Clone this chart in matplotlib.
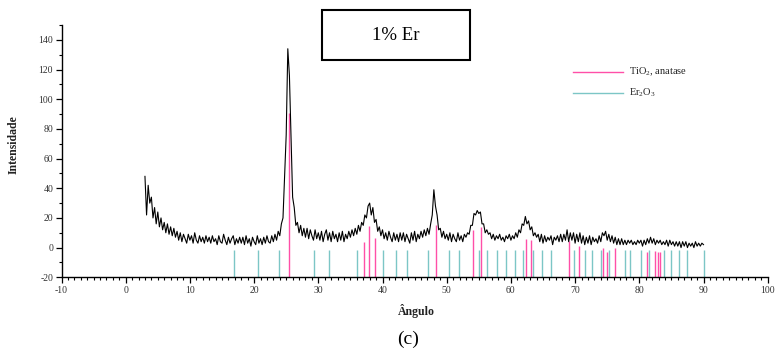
import numpy as np
import matplotlib
matplotlib.use("Agg")
import matplotlib.pyplot as plt
from matplotlib.lines import Line2D
from matplotlib.patches import Rectangle
from matplotlib.ticker import MultipleLocator

plt.rcParams['font.family'] = ['Liberation Serif', 'DejaVu Serif']
plt.rcParams['mathtext.fontset'] = 'custom'
plt.rcParams['mathtext.rm'] = 'Liberation Serif'
plt.rcParams['mathtext.it'] = 'Liberation Serif:italic'
plt.rcParams['axes.unicode_minus'] = False

# ---- data ----
angle_start, angle_step = 3.0, 0.25
intensity = [
    48, 22, 42, 30, 34, 20, 27, 16, 24, 14, 20, 12, 17, 10, 16, 9, 14, 8, 13, 7,
    11, 5, 10, 4, 9, 6, 3, 9, 5, 8, 3, 10, 5, 3, 8, 4, 7, 3, 8, 4,
    7, 3, 8, 4, 6, 2, 8, 4, 3, 9, 5, 2, 7, 3, 6, 8, 2, 6, 3, 7,
    3, 7, 2, 8, 3, 6, 1, 7, 4, 2, 8, 3, 6, 2, 7, 3, 8, 4, 3, 8,
    4, 9, 5, 11, 8, 16, 20, 48, 76, 134, 116, 74, 34, 27, 15, 17, 10, 15, 8, 13,
    7, 13, 6, 12, 8, 5, 12, 6, 10, 5, 11, 4, 9, 12, 5, 10, 4, 11, 6, 9,
    4, 10, 5, 11, 4, 9, 6, 11, 7, 12, 8, 13, 9, 15, 11, 17, 15, 22, 20, 28,
    30, 22, 27, 17, 19, 11, 14, 8, 12, 6, 10, 5, 11, 7, 4, 10, 5, 9, 4, 10,
    5, 10, 4, 9, 6, 3, 10, 5, 11, 4, 9, 6, 11, 7, 12, 8, 13, 9, 16, 22,
    39, 28, 22, 12, 13, 7, 11, 6, 9, 5, 10, 4, 9, 6, 4, 10, 5, 8, 4, 9,
    7, 10, 9, 15, 15, 23, 22, 25, 23, 24, 16, 16, 10, 12, 9, 10, 6, 9, 5, 8,
    6, 9, 5, 7, 4, 8, 6, 9, 5, 8, 6, 10, 7, 12, 10, 16, 15, 21, 16, 18,
    12, 14, 8, 10, 7, 9, 4, 9, 3, 8, 4, 7, 5, 8, 2, 7, 5, 8, 4, 9,
    4, 9, 5, 12, 4, 10, 5, 10, 3, 9, 4, 10, 3, 8, 2, 7, 3, 8, 2, 7,
    4, 6, 3, 8, 4, 10, 8, 11, 5, 9, 4, 8, 3, 7, 2, 6, 2, 6, 2, 5,
    2, 5, 3, 5, 2, 4, 2, 5, 3, 5, 1, 5, 2, 6, 3, 7, 3, 6, 2, 5,
    3, 5, 2, 4, 2, 5, 1, 5, 2, 4, 1, 4, 1, 4, 0, 4, 1, 4, 0, 3,
    1, 3, 0, 4, 1, 3, 1, 3, 2,
]
angle = np.arange(len(intensity)) * angle_step + angle_start

tio2_pos = [25.4, 37.1, 37.9, 38.9, 48.4, 54.1, 55.3, 62.4, 63.2, 69.0, 70.6,
            74.4, 75.0, 76.2, 81.2, 82.4, 82.9, 83.3]
tio2_top = [91, 4, 14.6, 6.3, 15.2, 11.9, 13.7, 5.6, 5.1, 4.7, 1.1,
            -0.3, -2.8, -0.5, -2.8, -2.0, -3.0, -3.0]

er2o3_pos = [16.8, 20.6, 23.9, 29.3, 31.7, 36.0, 40.0, 42.1, 43.8, 47.1, 50.3,
             51.9, 55.0, 56.2, 57.9, 59.2, 60.7, 61.9, 63.5, 64.9, 66.2, 69.9,
             71.5, 72.6, 74.1, 75.3, 77.7, 78.5, 80.2, 81.5, 83.8, 85.0, 86.2,
             87.5, 90.1]
er2o3_top = [-1.8] * len(er2o3_pos)

stick_base = -20
x_ticks = list(range(-10, 101, 10))
y_ticks = list(range(-20, 141, 20))

# ---- figure ----
W, H = 775, 351
fig = plt.figure(figsize=(W / 100, H / 100), dpi=100)
ax = fig.add_axes([61.5 / W, 1 - 277.3 / H, (767.7 - 61.5) / W, (277.3 - 25) / H])

pink = '#ff4fa8'
teal = '#7cc6c6'

ax.vlines(er2o3_pos, stick_base, er2o3_top, color=teal, lw=1.0)
ax.vlines(tio2_pos, stick_base, tio2_top, color=pink, lw=1.0)
ax.plot(angle, intensity, color='black', lw=0.8)

ax.set_xlim(-10, 100)
ax.set_ylim(-20, 150)
ax.set_xticks(x_ticks)
ax.set_yticks(y_ticks)
ax.xaxis.set_minor_locator(MultipleLocator(1))
ax.yaxis.set_minor_locator(MultipleLocator(10))
for s in ['top', 'right']:
    ax.spines[s].set_visible(False)
for s in ['left', 'bottom']:
    ax.spines[s].set_linewidth(1.0)
ax.tick_params(which='major', direction='out', length=4, width=0.9,
               labelsize=7, labelcolor='#333333', pad=2)
ax.tick_params(which='minor', direction='out', length=2.5, width=0.8)

fig.text(14 / W, 1 - 145 / H, 'Intensidade', rotation=90, ha='center',
         va='center', fontsize=8.5, fontweight='bold', color='#222222')
fig.text(416 / W, 1 - 311 / H, 'Ângulo', ha='center', va='center',
         fontsize=8.5, fontweight='bold', color='#222222')
fig.text(408 / W, 1 - 339 / H, '(c)', ha='center', va='center', fontsize=14)

# title box
fig.add_artist(Rectangle((322 / W, 1 - 60 / H), (470 - 322) / W, 50 / H,
                         transform=fig.transFigure, fill=False,
                         edgecolor='black', lw=1.5))
fig.text(396 / W, 1 - 35 / H, '1% Er', ha='center', va='center', fontsize=13.5)

# legend
fig.add_artist(Line2D([573 / W, 623 / W], [1 - 72 / H] * 2, color=pink, lw=1.0))
fig.add_artist(Line2D([573 / W, 623 / W], [1 - 93 / H] * 2, color=teal, lw=1.0))
fig.text(629 / W, 1 - 72 / H, 'TiO$_2$, anatase', ha='left', va='center',
         fontsize=7.5, color='#222222')
fig.text(629 / W, 1 - 93 / H, 'Er$_2$O$_3$', ha='left', va='center',
         fontsize=7.5, color='#222222')

fig.savefig('out.png', dpi=100)
